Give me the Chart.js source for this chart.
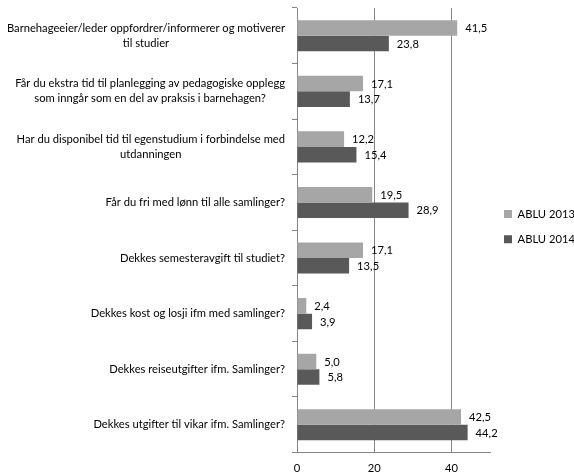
<html>
  <body style="margin:0;background:#fff">
    <script src="https://cdn.jsdelivr.net/npm/chart.js@4/dist/chart.umd.min.js"></script>
    <div style="width:574px;height:473px"><canvas id="myChart"></canvas></div>

    <script>
      const categories = [
        ['Barnehageeier/leder oppfordrer/informerer og motiverer', 'til studier'],
        ['Får du ekstra tid til planlegging av pedagogiske opplegg', 'som inngår som en del av praksis i barnehagen?'],
        ['Har du disponibel tid til egenstudium i forbindelse med', 'utdanningen'],
        ['Får du fri med lønn til alle samlinger?'],
        ['Dekkes semesteravgift til studiet?'],
        ['Dekkes kost og losji ifm med samlinger?'],
        ['Dekkes reiseutgifter ifm. Samlinger?'],
        ['Dekkes utgifter til vikar ifm. Samlinger?']
      ];
      const ablu2013 = [41.5, 17.1, 12.2, 19.5, 17.1, 2.4, 5.0, 42.5];
      const ablu2014 = [23.8, 13.7, 15.4, 28.9, 13.5, 3.9, 5.8, 44.2];
      const xTicks = [0, 20, 40];

      const font = 'Lato, "Open Sans", sans-serif';
      const fs = 11.2;
      Chart.defaults.font.family = font;
      Chart.defaults.font.size = fs;
      Chart.defaults.color = '#000';

      // verdier til høyre for søylene, med komma
      const valueLabels = {
        id: 'valueLabels',
        afterDatasetsDraw(chart) {
          const ctx = chart.ctx;
          ctx.save();
          ctx.font = fs + 'px ' + font;
          ctx.fillStyle = '#000';
          ctx.textAlign = 'left';
          ctx.textBaseline = 'middle';
          chart.data.datasets.forEach((ds, i) => {
            chart.getDatasetMeta(i).data.forEach((bar, j) => {
              ctx.fillText(ds.data[j].toFixed(1).replace('.', ','), bar.x + 8, bar.y + 0.5);
            });
          });
          ctx.restore();
        }
      };

      // kategorinavn, midtstilt per linje som i Excel
      const centeredLabels = {
        id: 'centeredLabels',
        afterDraw(chart) {
          const ctx = chart.ctx;
          const scale = chart.scales.y;
          const right = scale.right - 12;
          ctx.save();
          ctx.font = fs + 'px ' + font;
          ctx.fillStyle = '#000';
          ctx.textAlign = 'center';
          ctx.textBaseline = 'middle';
          const lh = 15;
          chart.data.labels.forEach((lines, i) => {
            const y = scale.getPixelForValue(i);
            const w = Math.max(...lines.map(l => ctx.measureText(l).width));
            const cx = right - w / 2;
            lines.forEach((l, k) => {
              ctx.fillText(l, cx, y + (k - (lines.length - 1) / 2) * lh);
            });
          });
          ctx.restore();
        }
      };

      new Chart(document.getElementById('myChart'), {
        type: 'bar',
        data: {
          labels: categories,
          datasets: [
            { label: 'ABLU 2013', data: ablu2013, backgroundColor: '#a6a6a6' },
            { label: 'ABLU 2014', data: ablu2014, backgroundColor: '#595959' }
          ]
        },
        options: {
          indexAxis: 'y',
          responsive: true,
          maintainAspectRatio: false,
          animation: false,
          devicePixelRatio: 1,
          datasets: { bar: { categoryPercentage: 0.56, barPercentage: 1 } },
          layout: { padding: { left: 0, top: 8, right: 0, bottom: -11 } },
          scales: {
            x: {
              min: 0,
              max: 50,
              afterBuildTicks: s => { s.ticks = xTicks.map(v => ({ value: v })); },
              grid: { color: '#868686', drawTicks: false },
              border: { color: '#868686' },
              ticks: { padding: 9 }
            },
            y: {
              afterFit: s => { s.width = 297; },
              grid: { drawOnChartArea: false, color: '#868686', tickLength: 5, offset: true },
              border: { color: '#868686' },
              // selve teksten tegnes av centeredLabels
              ticks: { display: false }
            }
          },
          plugins: {
            legend: {
              position: 'right',
              align: 'start',
              maxWidth: 84,
              title: { display: true, text: '', padding: { top: 173, bottom: 0 } },
              labels: { boxWidth: 8, boxHeight: 8, padding: 14 }
            },
            tooltip: { enabled: false }
          }
        },
        plugins: [valueLabels, centeredLabels]
      });
    </script>
  </body>
</html>
